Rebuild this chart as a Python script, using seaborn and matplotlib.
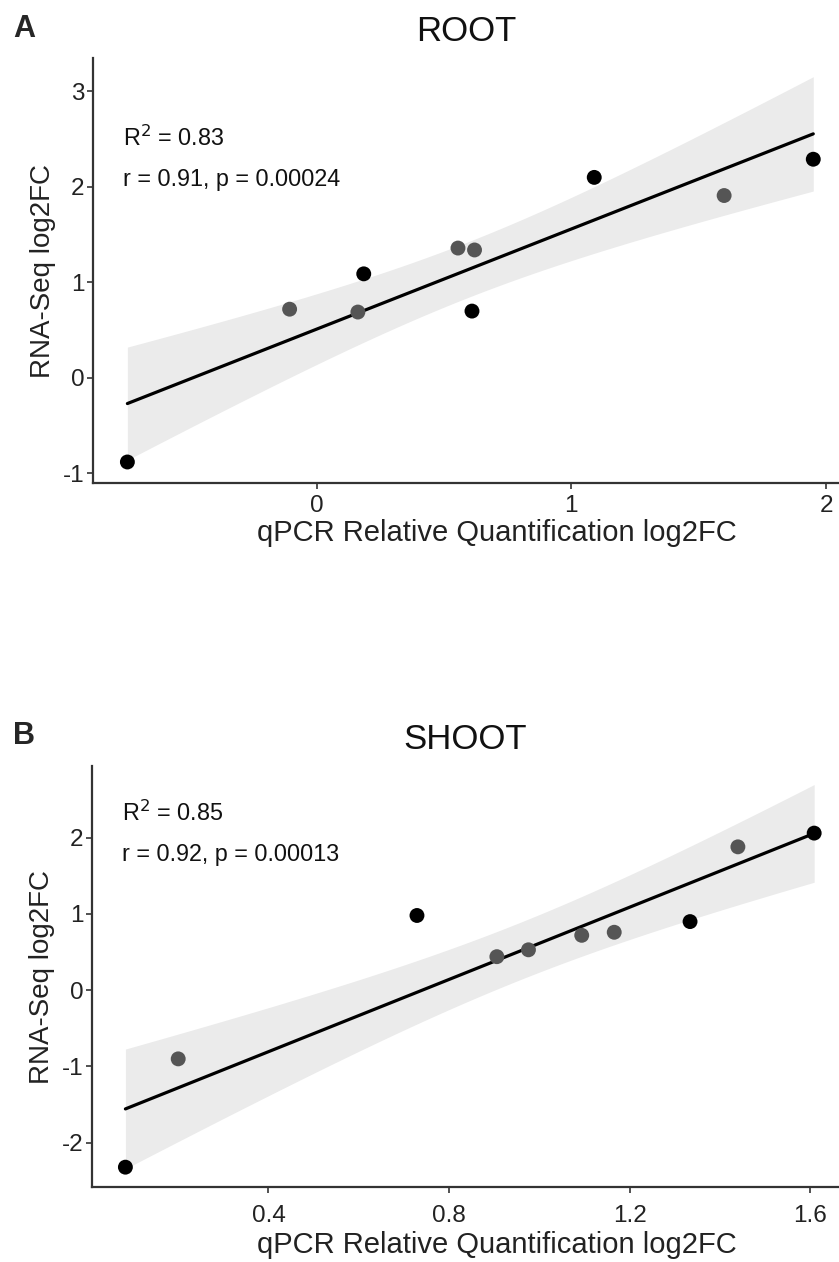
import numpy as np
import pandas as pd
import matplotlib
matplotlib.use("Agg")
import matplotlib.pyplot as plt
import seaborn as sns

# ---- data ----
root_qpcr = [-0.743, -0.106, 0.185, 0.162, 0.555, 0.62, 0.61, 1.09, 1.60, 1.95]
root_rnaseq = [-0.88, 0.72, 1.09, 0.69, 1.36, 1.34, 0.70, 2.10, 1.91, 2.29]
root_group = ["a", "b", "a", "b", "b", "b", "a", "a", "b", "a"]

shoot_qpcr = [0.083, 0.20, 0.729, 0.906, 0.976, 1.094, 1.166, 1.334, 1.440, 1.609]
shoot_rnaseq = [-2.32, -0.90, 0.98, 0.44, 0.53, 0.72, 0.76, 0.90, 1.88, 2.06]
shoot_group = ["a", "b", "a", "b", "b", "b", "b", "a", "b", "a"]

root_stats = ["R$^2$ = 0.83", "r = 0.91, p = 0.00024"]
shoot_stats = ["R$^2$ = 0.85", "r = 0.92, p = 0.00013"]

root_xticks = [0, 1, 2]
root_yticks = [-1, 0, 1, 2, 3]
shoot_xticks = [0.4, 0.8, 1.2, 1.6]
shoot_yticks = [-2, -1, 0, 1, 2]

sns.set_theme(style="white")
plt.rcParams["font.family"] = ["Liberation Sans", "DejaVu Sans"]

palette = {"a": "#000000", "b": "#555555"}

fig = plt.figure(figsize=(8.39, 12.62), dpi=100)
axA = fig.add_axes([93 / 839, 1 - 483 / 1262, 746 / 839, 425 / 1262])
axB = fig.add_axes([92 / 839, 1 - 1187 / 1262, 747 / 839, 421 / 1262])

T975_DF8 = 2.306  # t quantile for 95% CI with n-2 = 8 df


def lm_band(x, y):
    x = np.asarray(x, float)
    y = np.asarray(y, float)
    n = len(x)
    b1, b0 = np.polyfit(x, y, 1)
    xs = np.linspace(x.min(), x.max(), 200)
    resid = y - (b0 + b1 * x)
    s = np.sqrt(np.sum(resid ** 2) / (n - 2))
    se = s * np.sqrt(1 / n + (xs - x.mean()) ** 2 / np.sum((x - x.mean()) ** 2))
    yhat = b0 + b1 * xs
    return xs, yhat - T975_DF8 * se, yhat + T975_DF8 * se


def panel(ax, x, y, g, stats, stat_y, title, xlim, ylim, xticks, yticks, xfmt,
          xpad, xlab_y):
    df = pd.DataFrame({"x": x, "y": y, "g": g})
    xs, lo, hi = lm_band(x, y)
    ax.fill_between(xs, lo, hi, color="#ebebeb", lw=0, zorder=1)
    sns.regplot(data=df, x="x", y="y", ax=ax, scatter=False, ci=None,
                color="black", line_kws={"lw": 2.3, "zorder": 3})
    sns.scatterplot(data=df, x="x", y="y", hue="g", palette=palette, ax=ax,
                    s=115, edgecolor="none", legend=False, zorder=4)
    ax.set_xlim(*xlim)
    ax.set_ylim(*ylim)
    ax.set_xticks(xticks)
    ax.set_yticks(yticks)
    ax.set_xticklabels([xfmt(v) for v in xticks])
    ax.set_yticklabels([str(v) for v in yticks])
    for s in ["top", "right"]:
        ax.spines[s].set_visible(False)
    for s in ["left", "bottom"]:
        ax.spines[s].set_color("#333333")
        ax.spines[s].set_linewidth(1.6)
    ax.tick_params(axis="both", which="both", direction="out", length=4, width=1.2,
                   color="#333333", labelsize=17.5, labelcolor="#222222", pad=2,
                   bottom=True, left=True)
    ax.tick_params(axis="x", pad=xpad)
    ax.set_xlabel("qPCR Relative Quantification log2FC", fontsize=21, color="#222222")
    ax.xaxis.set_label_coords(0.5416, xlab_y)
    ax.set_ylabel("RNA-Seq log2FC", fontsize=20, color="#222222", labelpad=5)
    ax.set_title(title, fontsize=25, pad=12, color="#111111")
    ax.text(0.04, stat_y[0], stats[0], transform=ax.transAxes, fontsize=16.8, color="#111111",
            va="center", ha="left")
    ax.text(0.04, stat_y[1], stats[1], transform=ax.transAxes, fontsize=16.8, color="#111111",
            va="center", ha="left")
    return ax


panel(axA, root_qpcr, root_rnaseq, root_group, root_stats, (0.812, 0.713), "ROOT",
      (-0.878, 2.051), (-1.10, 3.35), root_xticks, root_yticks, lambda v: str(v),
      5, -0.085)
panel(axB, shoot_qpcr, shoot_rnaseq, shoot_group, shoot_stats, (0.888, 0.79), "SHOOT",
      (0.009, 1.664), (-2.58, 2.94), shoot_xticks, shoot_yticks, lambda v: f"{v:.1f}",
      9, -0.105)

fig.text(13 / 839, 1 - 29 / 1262, "A", fontsize=22, fontweight="bold", va="center", ha="left")
fig.text(13 / 839, 1 - 736 / 1262, "B", fontsize=22, fontweight="bold", va="center", ha="left")

fig.savefig("out.png", dpi=100, facecolor="white")
